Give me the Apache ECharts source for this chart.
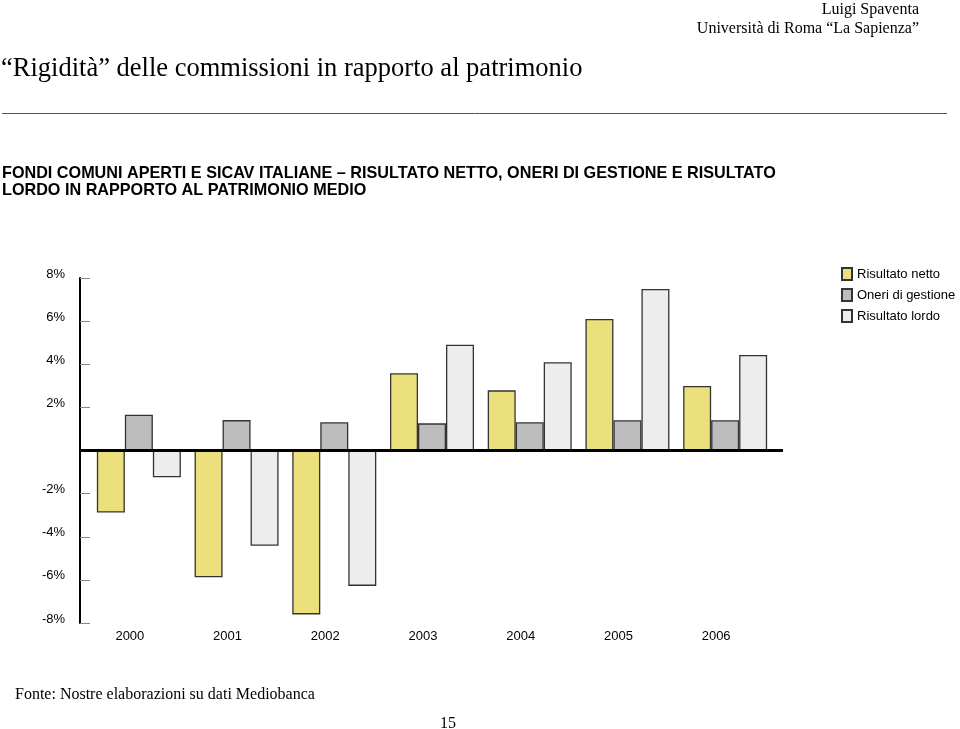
<!DOCTYPE html>
<html><head><meta charset="utf-8">
<script src="https://cdn.jsdelivr.net/npm/echarts@6/dist/echarts.min.js"></script>
<style>html,body{margin:0;padding:0;background:#fff}#c{width:960px;height:729px}</style>
</head><body><div id="c"></div>
<script>
const categories = ['2000','2001','2002','2003','2004','2005','2006'];
const risultatoNetto = [-2.88, -5.88, -7.6, 3.58, 2.79, 6.10, 2.99];
const oneriGestione = [1.66, 1.41, 1.31, 1.26, 1.31, 1.40, 1.40];
const risultatoLordo = [-1.24, -4.42, -6.28, 4.91, 4.09, 7.49, 4.43];
const yTicks = [-8, -6, -4, -2, 0, 2, 4, 6, 8];

const chart = echarts.init(document.getElementById('c'));
const serif = '"Liberation Serif", "Times New Roman", serif';
const sans = '"Liberation Sans", Arial, sans-serif';
const barBorder = { borderColor: '#333', borderWidth: 1.3 };

chart.setOption({
  animation: false,
  backgroundColor: '#fff',
  title: [
    { text: 'Luigi Spaventa', right: 41, top: 2, padding: 0, textStyle: { fontFamily: serif, fontSize: 16, fontWeight: 'normal', color: '#000' } },
    { text: 'Università di Roma “La Sapienza”', right: 41, top: 21, padding: 0, textStyle: { fontFamily: serif, fontSize: 16, fontWeight: 'normal', color: '#000' } },
    { text: '“Rigidità” delle commissioni in rapporto al patrimonio', left: 1, top: 56, padding: 0, textStyle: { fontFamily: serif, fontSize: 26.5, fontWeight: 'normal', color: '#000' } },
    { text: 'FONDI COMUNI APERTI E SICAV ITALIANE – RISULTATO NETTO, ONERI DI GESTIONE E RISULTATO\nLORDO IN RAPPORTO AL PATRIMONIO MEDIO', left: 2, top: 165, padding: 0, textStyle: { fontFamily: sans, fontSize: 16.2, fontWeight: 'bold', color: '#000', lineHeight: 17 } },
    { text: 'Fonte: Nostre elaborazioni su dati Mediobanca', left: 15, top: 687, padding: 0, textStyle: { fontFamily: serif, fontSize: 16, fontWeight: 'normal', color: '#000' } },
    { text: '15', left: 440, top: 716, padding: 0, textStyle: { fontFamily: serif, fontSize: 16, fontWeight: 'normal', color: '#000' } }
  ],
  legend: {
    orient: 'vertical', left: 841, top: 267, padding: 0, itemGap: 7, itemWidth: 10, itemHeight: 12, icon: 'rect',
    textStyle: { fontFamily: sans, fontSize: 13, color: '#000' },
    data: ['Risultato netto', 'Oneri di gestione', 'Risultato lordo']
  },
  grid: { left: 90, width: 684, top: 278, height: 345 },
  xAxis: {
    type: 'category', data: categories, position: 'bottom',
    axisLine: { show: false }, axisTick: { show: false },
    axisLabel: { fontFamily: sans, fontSize: 13, color: '#000', margin: 7, padding: [0, 18, 0, 0] }
  },
  yAxis: {
    type: 'value', min: -8, max: 8, interval: 2, offset: 10,
    axisLine: { show: true, lineStyle: { color: '#000', width: 2 } },
    axisTick: { show: true, inside: true, length: 10, lineStyle: { color: '#888', width: 1 } },
    splitLine: { show: false },
    axisLabel: { fontFamily: sans, fontSize: 13, color: '#000', margin: 15, verticalAlign: 'bottom', lineHeight: 8,
      formatter: v => (yTicks.includes(v) && v !== 0) ? v + '%' : '' }
  },
  series: [
    { name: 'Risultato netto', type: 'bar', data: risultatoNetto, barWidth: 28, barGap: '0%', itemStyle: Object.assign({ color: '#ECE07C' }, barBorder) },
    { name: 'Oneri di gestione', type: 'bar', data: oneriGestione, barWidth: 28, barGap: '0%', itemStyle: Object.assign({ color: '#BDBDBD' }, barBorder) },
    { name: 'Risultato lordo', type: 'bar', data: risultatoLordo, barWidth: 28, barGap: '0%', itemStyle: Object.assign({ color: '#EDEDED' }, barBorder) }
  ]
});

const y0 = chart.convertToPixel({ yAxisIndex: 0 }, 0);
chart.setOption({
  graphic: [
    { type: 'line', shape: { x1: 2, y1: 113.5, x2: 947, y2: 113.5 }, style: { stroke: '#555', lineWidth: 1 } },
    { type: 'line', z: 100, shape: { x1: 80, y1: y0, x2: 783, y2: y0 }, style: { stroke: '#000', lineWidth: 3 } }
  ]
});
</script></body></html>
